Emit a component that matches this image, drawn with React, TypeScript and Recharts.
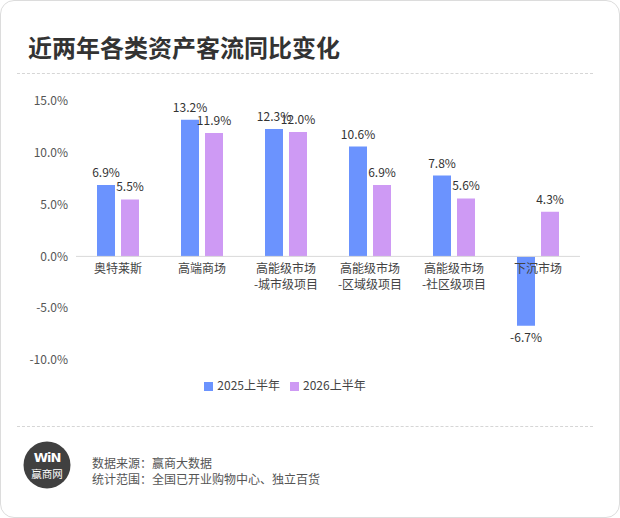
import { BarChart, Bar, XAxis, YAxis, LabelList, Legend, ReferenceLine } from "recharts";

// categories ("\n" splits a tick label onto two lines)
const categories = [
  "奥特莱斯",
  "高端商场",
  "高能级市场\n-城市级项目",
  "高能级市场\n-区域级项目",
  "高能级市场\n-社区级项目",
  "下沉市场",
];
const h1_2025 = [6.9, 13.2, 12.3, 10.6, 7.8, -6.7];
const h1_2026 = [5.5, 11.9, 12.0, 6.9, 5.6, 4.3];
const yTicks = [-10, -5, 0, 5, 10, 15];

const data = categories.map((name, i) => ({ name, a: h1_2025[i], b: h1_2026[i] }));

const FONT = "'Noto Sans CJK SC', 'Noto Sans', sans-serif";
const BLUE = "#6b93fe";
const PURPLE = "#ce9af4";

const CHART_W = 620;
const CHART_H = 400;
const TOP = 101;
const BOTTOM_MARGIN = 10;
const X_AXIS_H = 30;
const PLOT_H = CHART_H - TOP - BOTTOM_MARGIN - X_AXIS_H;
const Y_MIN = yTicks[0];
const Y_MAX = yTicks[yTicks.length - 1];
// distance from the bottom of the plot up to the zero line
const ZERO_SHIFT = (PLOT_H * (0 - Y_MIN)) / (Y_MAX - Y_MIN);

const pct = (v: number) => `${v.toFixed(1)}%`;

function CategoryTick(props: any) {
  const { x, y, payload } = props;
  const lines = String(payload.value).split("\n");
  return (
    <text x={x} y={y - ZERO_SHIFT} textAnchor="middle" fill="#444" fontSize={12} fontFamily={FONT}>
      {lines.map((l, i) => (
        <tspan key={i} x={x} dy={i === 0 ? "0.71em" : 16}>
          {l}
        </tspan>
      ))}
    </text>
  );
}

export default function App() {
  return (
    <div
      style={{
        position: "absolute",
        left: 0,
        top: 0,
        width: 620,
        height: 518,
        boxSizing: "border-box",
        border: "1px solid #dcdcdc",
        borderRadius: 14,
        background: "#fff",
        fontFamily: FONT,
        overflow: "hidden",
      }}
    >
      <div
        style={{
          position: "absolute",
          left: 27,
          top: 30,
          fontSize: 24,
          fontWeight: 700,
          color: "#333",
          lineHeight: "32px",
        }}
      >
        近两年各类资产客流同比变化
      </div>
      <div style={{ position: "absolute", left: 16, right: 26, top: 72, borderTop: "1px dashed #d6d6d6" }} />

      <div style={{ position: "absolute", left: -1, top: -1 }}>
        <BarChart
          width={CHART_W}
          height={CHART_H}
          data={data}
          margin={{ top: TOP, right: 40, left: 0, bottom: BOTTOM_MARGIN }}
          barSize={18}
          barGap={6}
        >
          <YAxis
            width={76}
            domain={[Y_MIN, Y_MAX]}
            ticks={yTicks}
            tickFormatter={pct}
            axisLine={false}
            tickLine={false}
            tick={{ fill: "#555", fontSize: 12, fontFamily: FONT }}
            interval={0}
          />
          <XAxis
            dataKey="name"
            height={X_AXIS_H}
            axisLine={false}
            tickLine={false}
            interval={0}
            tick={<CategoryTick />}
          />
          <ReferenceLine y={0} stroke="#d9d9d9" strokeWidth={1} />
          <Bar dataKey="a" name="2025上半年" fill={BLUE} isAnimationActive={false}>
            <LabelList dataKey="a" position="top" offset={8} formatter={(v: any) => pct(Number(v))} fill="#333" fontSize={12} fontFamily={FONT} />
          </Bar>
          <Bar dataKey="b" name="2026上半年" fill={PURPLE} isAnimationActive={false}>
            <LabelList dataKey="b" position="top" offset={8} formatter={(v: any) => pct(Number(v))} fill="#333" fontSize={12} fontFamily={FONT} />
          </Bar>
          <Legend
            layout="horizontal"
            verticalAlign="middle"
            align="center"
            iconType="square"
            iconSize={9}
            wrapperStyle={{ top: 376, fontSize: 12, fontFamily: FONT }}
            formatter={(value: any) => <span style={{ color: "#444" }}>{value}</span>}
          />
        </BarChart>
      </div>

      <div style={{ position: "absolute", left: 16, right: 26, top: 425, borderTop: "1px dashed #d6d6d6" }} />

      <svg style={{ position: "absolute", left: 22, top: 440 }} width={50} height={50}>
        <circle cx={24} cy={24} r={23.5} fill="#404040" />
        <text x={24} y={21} textAnchor="middle" fill="#fff" fontSize={13} fontWeight={900} fontFamily="'DejaVu Sans', sans-serif" letterSpacing={-1}>
          WiN
        </text>
        <text x={24} y={37} textAnchor="middle" fill="#fff" fontSize={10.5} fontFamily={FONT}>
          赢商网
        </text>
      </svg>

      <div style={{ position: "absolute", left: 91, top: 454, fontSize: 12, color: "#555", lineHeight: "16px" }}>
        <div>数据来源：赢商大数据</div>
        <div>统计范围：全国已开业购物中心、独立百货</div>
      </div>
    </div>
  );
}
